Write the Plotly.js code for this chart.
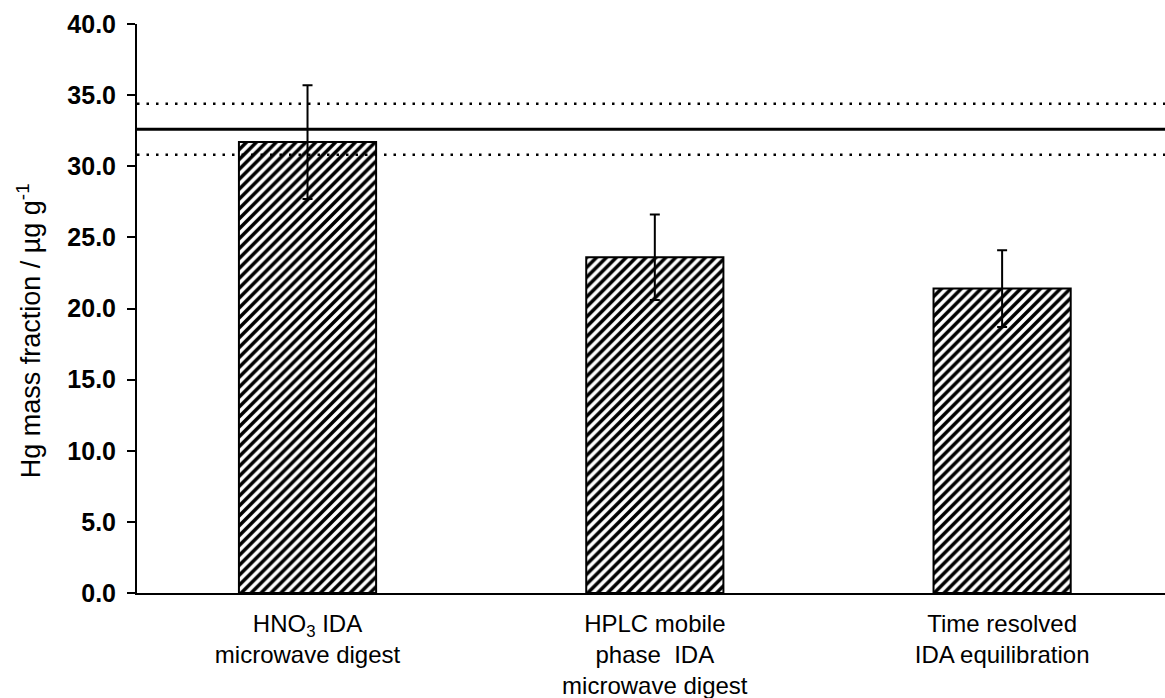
<!DOCTYPE html>
<html>
<head>
<meta charset="utf-8">
<script src="https://cdn.plot.ly/plotly-3.0.1.min.js"></script>
<style>html,body{margin:0;padding:0;background:#fff;}#chart{width:1165px;height:698px;}</style>
</head>
<body>
<div id="chart"></div>
<script>
// Data
const categories = ["HNO<sub>3</sub> IDA<br>microwave digest", "HPLC mobile<br>phase  IDA<br>microwave digest", "Time resolved<br>IDA equilibration"];
const massFraction = [31.7, 23.6, 21.4];
const uncertainty = [4.0, 3.0, 2.7];
const referenceValue = [32.6];
const referenceBounds = [34.4, 30.8];
const yTicks = [0, 5, 10, 15, 20, 25, 30, 35, 40];

const black = '#000';
const trace = {
  type: 'bar',
  x: categories,
  y: massFraction,
  width: 0.395,
  marker: {
    color: 'white',
    line: {color: black, width: 2},
    pattern: {shape: '/', fgcolor: black, bgcolor: 'white', size: 7, solidity: 0.5}
  },
  error_y: {type: 'data', array: uncertainty, visible: true, color: black, thickness: 2, width: 5},
  hoverinfo: 'skip'
};

const shapes = [];
referenceValue.forEach(v => shapes.push({type: 'line', xref: 'paper', x0: 0, x1: 1, yref: 'y', y0: v, y1: v, line: {color: black, width: 3}}));
referenceBounds.forEach(v => shapes.push({type: 'line', xref: 'paper', x0: 0, x1: 1, yref: 'y', y0: v, y1: v, line: {color: black, width: 2.5, dash: '2.5px,7px'}}));

const layout = {
  width: 1165, height: 698,
  margin: {l: 137, r: 0, t: 24, b: 105},
  paper_bgcolor: 'white', plot_bgcolor: 'white',
  showlegend: false,
  font: {family: 'Liberation Sans, Arial, sans-serif', color: black},
  xaxis: {
    type: 'category',
    range: [-0.491, 2.469],
    showline: true, linecolor: black, linewidth: 2,
    ticks: '', showgrid: false, zeroline: false,
    ticklabelstandoff: 8,
    tickfont: {size: 24, family: 'Liberation Sans, Arial, sans-serif', color: black},
    fixedrange: true
  },
  yaxis: {
    range: [0, 40],
    tickvals: yTicks,
    ticktext: yTicks.map(v => v.toFixed(1)),
    showline: true, linecolor: black, linewidth: 2,
    ticks: 'outside', ticklen: 8, tickwidth: 2, tickcolor: black,
    showgrid: false, zeroline: false,
    ticklabelstandoff: 6,
    tickfont: {size: 25, family: 'Liberation Sans, Arial, sans-serif', weight: 'bold', color: black},
    fixedrange: true
  },
  shapes: shapes,
  annotations: [{
    text: 'Hg mass fraction / µg g<sup>-1</sup>',
    xref: 'paper', yref: 'paper', x: -0.105, y: 0.46,
    xanchor: 'center', yanchor: 'middle', textangle: -90, showarrow: false,
    font: {size: 27, family: 'Liberation Sans, Arial, sans-serif', color: black}
  }]
};

Plotly.newPlot('chart', [trace], layout, {displayModeBar: false, staticPlot: true});
</script>
</body>
</html>
